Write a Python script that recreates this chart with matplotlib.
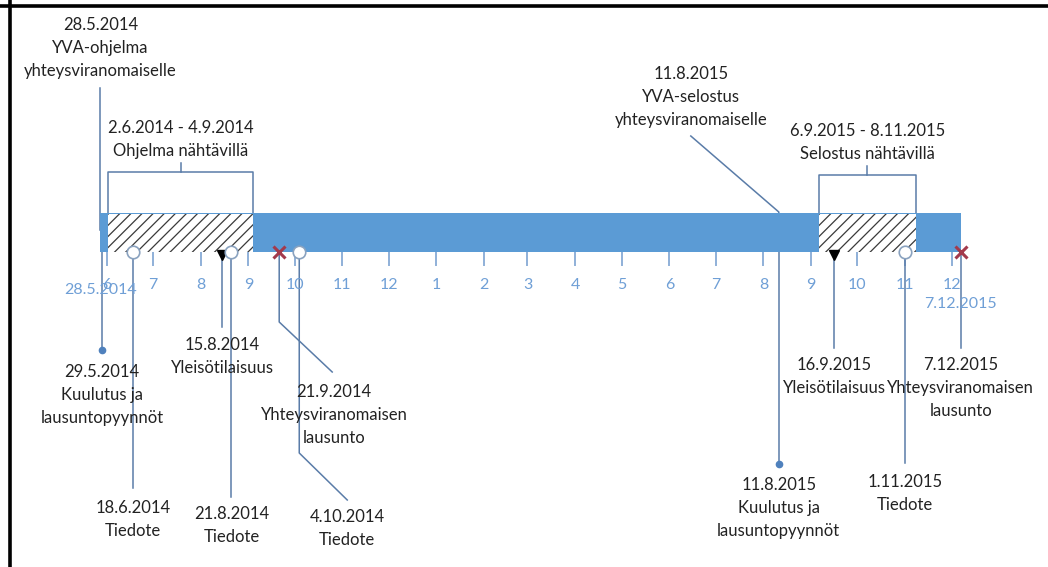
import datetime as dt
import matplotlib
matplotlib.use("Agg")
import matplotlib.pyplot as plt
import matplotlib.dates as mdates
from matplotlib.patches import Rectangle

plt.rcParams['font.family'] = ['Lato', 'DejaVu Sans']
plt.rcParams['hatch.linewidth'] = 0.9
plt.rcParams['hatch.color'] = '#3a3a3a'

# timeline span
timeline_start = dt.date(2014, 5, 28)
timeline_end = dt.date(2015, 12, 7)

# periods when documents were on display
period_starts = [dt.date(2014, 6, 2), dt.date(2015, 9, 6)]
period_ends = [dt.date(2014, 9, 4), dt.date(2015, 11, 8)]
period_labels = ["2.6.2014 - 4.9.2014\nOhjelma nähtävillä",
                 "6.9.2015 - 8.11.2015\nSelostus nähtävillä"]

# milestones
event_dates = [dt.date(2014, 5, 28), dt.date(2014, 5, 29), dt.date(2014, 6, 18),
               dt.date(2014, 8, 15), dt.date(2014, 8, 21), dt.date(2014, 9, 21),
               dt.date(2014, 10, 4), dt.date(2015, 8, 11), dt.date(2015, 8, 11),
               dt.date(2015, 9, 16), dt.date(2015, 11, 1), dt.date(2015, 12, 7)]
event_labels = ["28.5.2014\nYVA-ohjelma\nyhteysviranomaiselle",
                "29.5.2014\nKuulutus ja\nlausuntopyynnöt",
                "18.6.2014\nTiedote",
                "15.8.2014\nYleisötilaisuus",
                "21.8.2014\nTiedote",
                "21.9.2014\nYhteysviranomaisen\nlausunto",
                "4.10.2014\nTiedote",
                "11.8.2015\nYVA-selostus\nyhteysviranomaiselle",
                "11.8.2015\nKuulutus ja\nlausuntopyynnöt",
                "16.9.2015\nYleisötilaisuus",
                "1.11.2015\nTiedote",
                "7.12.2015\nYhteysviranomaisen\nlausunto"]
event_kinds = ["none", "dot", "circle", "triangle", "circle", "cross",
               "circle", "none", "dot", "triangle", "circle", "cross"]

# month ticks along the bar
month_ticks = [dt.date(2014 + (5 + i) // 12, (5 + i) % 12 + 1, 1) for i in range(19)]
month_labels = [str(d.month) for d in month_ticks]

# layout (pixels: x offset from the date, y from the top)
label_dx = [0, 0, 0, 0, 0, 55, 48, -88, 0, 0, 0, 0]
label_y = [25, 372, 508, 345, 514, 392, 517, 74, 485, 365, 482, 365]
leader_paths = [
    [(0, 88), (0, 230)],
    [(0, 235), (0, 350)],
    [(0, 252), (0, 488)],
    [(0, 254), (0, 327)],
    [(0, 252), (0, 497)],
    [(0, 252), (0, 322), (53, 372)],
    [(0, 252), (0, 453), (48, 500)],
    [(-88, 136), (0, 212), (0, 230)],
    [(0, 235), (0, 464)],
    [(0, 254), (0, 348)],
    [(0, 252), (0, 463)],
    [(0, 252), (0, 348)],
]
bracket_y = [172, 175]
W, H = 1048, 567
bar_top, bar_bot = 213, 252
line_step = 23

bar_color = '#5b9bd5'
line_color = '#5a7ca8'
text_color = '#222222'
month_color = '#6f9fd6'

fig = plt.figure(figsize=(W / 100, H / 100), dpi=100)
ax = fig.add_axes([0, 0, 1, 1])

# map June 1 2014 to x=106.5 and 1.542 px per day
ref = mdates.date2num(dt.date(2014, 6, 1))
ppd = 1.542
ax.set_xlim(ref - 106.5 / ppd, ref + (W - 106.5) / ppd)
ax.set_ylim(H, 0)
ax.axis('off')
dpx = 1 / ppd


def xd(d, dx=0):
    return mdates.date2num(d) + dx * dpx


# frame (top and left edges)
ax.axhline(6, color='black', lw=2.6, zorder=10)
ax.axvline(ax.get_xlim()[0] + 10 * dpx, color='black', lw=2.6, zorder=10)

# main bar
x0, x1 = xd(timeline_start), xd(timeline_end)
ax.add_patch(Rectangle((x0, bar_top), x1 - x0, bar_bot - bar_top,
                       facecolor=bar_color, edgecolor='none', zorder=2))

# display periods: hatched boxes with brackets
for s, e, lab, by in zip(period_starts, period_ends, period_labels, bracket_y):
    a, b = xd(s), xd(e)
    ax.add_patch(Rectangle((a, bar_top + 1), b - a, bar_bot - bar_top - 1,
                           facecolor='white', edgecolor='#3a3a3a', lw=0,
                           hatch='///', zorder=3))
    ax.plot([a, a, b, b], [bar_top, by, by, bar_top], color=line_color, lw=1.1, zorder=1)
    m = (a + b) / 2
    ax.plot([m, m], [by - 9, by], color=line_color, lw=1.1, zorder=1)
    for i, ln in enumerate(lab.split('\n')):
        ax.text(m, by - 44 + i * line_step, ln, ha='center', va='center',
                fontsize=12, color=text_color)

# month ticks
for d, lab in zip(month_ticks, month_labels):
    ax.plot([xd(d), xd(d)], [bar_bot, bar_bot + 13], color='#8fb0d8', lw=1.4, zorder=1)
    ax.text(xd(d), 285, lab, ha='center', va='center', fontsize=11.5, color=month_color)

# start / end labels
ax.text(x0, 290, timeline_start.strftime('%-d.%-m.%Y'), ha='center', va='center',
        fontsize=11.5, color=month_color, zorder=5)
ax.text(x1, 304, timeline_end.strftime('%-d.%-m.%Y'), ha='center', va='center',
        fontsize=11.5, color=month_color, zorder=5)

# milestones
for d, lab, kind, dx, ly, path in zip(event_dates, event_labels, event_kinds,
                                      label_dx, label_y, leader_paths):
    ax.plot([xd(d, p[0]) for p in path], [p[1] for p in path],
            color=line_color, lw=1.1, zorder=1)
    x = xd(d)
    if kind == 'circle':
        ax.plot(x, bar_bot, 'o', ms=9, mfc='white', mec='#8aa2bf', mew=1.2, zorder=5)
    elif kind == 'triangle':
        ax.plot(x, bar_bot + 3, 'v', ms=7.5, color='black', zorder=5)
    elif kind == 'cross':
        ax.plot(x, bar_bot, 'x', ms=8, mew=2.2, color='#a33a4c', zorder=5)
    elif kind == 'dot':
        ax.plot(x, path[-1][1], 'o', ms=4.5, color='#4f81bd', zorder=5)
    for i, ln in enumerate(lab.split('\n')):
        ax.text(xd(d, dx), ly + i * line_step, ln, ha='center', va='center',
                fontsize=12, color=text_color, zorder=6)

fig.savefig('out.png', dpi=100)
